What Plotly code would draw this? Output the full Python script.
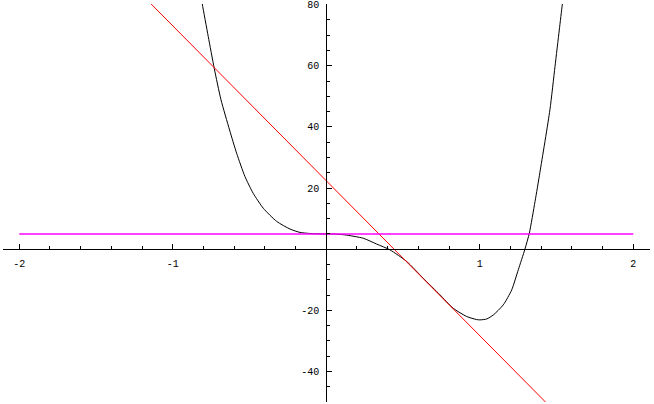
import plotly.graph_objects as go

# black curve
curve_x = [-0.822, -0.808, -0.769, -0.730, -0.686, -0.630, -0.584, -0.530, -0.476, -0.410,
           -0.323, -0.236, -0.171, -0.117, -0.06, 0.0, 0.06, 0.122, 0.241, 0.328,
           0.415, 0.524, 0.632, 0.741, 0.827, 0.915, 0.980, 1.001, 1.045, 1.088,
           1.153, 1.208, 1.251, 1.294, 1.323, 1.360, 1.392, 1.457, 1.490,
           1.518, 1.538, 1.552]
curve_y = [84.0, 80.2, 69.6, 59.2, 48.9, 39.0, 31.4, 23.8, 18.3, 13.4,
           9.1, 6.6, 5.5, 5.2, 5.05, 5.0, 4.95, 4.7, 3.6, 1.7,
           -0.2, -4.0, -9.5, -14.9, -19.3, -22.0, -23.0, -23.1, -22.8, -21.5,
           -18.2, -13.3, -6.7, 0.0, 5.3, 15.6, 25.2, 45.6, 59.7,
           71.7, 80.2, 86.0]

# red tangent line
tangent_x = [-1.2, 1.5]
tangent_y = [83.2, -53.6]

# magenta horizontal line
level_x = [-2, 2]
level_y = [5, 5]

x_tick_vals = [-2, -1, 1, 2]
x_tick_text = ["-2", "-1", "1", "2"]
y_tick_vals = [-40, -20, 20, 40, 60, 80]
y_tick_text = ["-40", "-20", "20", "40", "60", "80"]

x_range = [-2.106, 2.109]
y_range = [-49.95, 80.2]

fig = go.Figure()
fig.add_trace(go.Scatter(x=curve_x, y=curve_y, mode="lines",
                         line=dict(color="black", width=1, shape="spline", smoothing=0.6),
                         hoverinfo="skip"))
fig.add_trace(go.Scatter(x=tangent_x, y=tangent_y, mode="lines",
                         line=dict(color="#ff0000", width=1), hoverinfo="skip"))
fig.add_trace(go.Scatter(x=level_x, y=level_y, mode="lines",
                         line=dict(color="#ff00ff", width=1.6), hoverinfo="skip"))

xpos = (0 - y_range[0]) / (y_range[1] - y_range[0])
ypos = (0 - x_range[0]) / (x_range[1] - x_range[0])

tick_font = dict(family="Liberation Mono, Courier New, monospace", size=10, color="black")

fig.update_layout(
    width=654, height=404,
    margin=dict(l=3, r=4, t=4, b=2),
    paper_bgcolor="white", plot_bgcolor="white",
    showlegend=False,
    xaxis=dict(range=x_range, anchor="free", position=xpos, showgrid=False, zeroline=False,
               automargin=False,
               showline=True, linecolor="black", linewidth=1,
               tickmode="array", tickvals=x_tick_vals, ticktext=x_tick_text,
               ticks="inside", ticklen=5, tickwidth=1, tickcolor="black",
               tickfont=tick_font, ticklabelstandoff=5,
               minor=dict(tickmode="linear", tick0=0, dtick=0.2, ticks="inside",
                          ticklen=3, tickwidth=1, tickcolor="black", showgrid=False)),
    yaxis=dict(range=y_range, anchor="free", position=ypos, showgrid=False, zeroline=False,
               automargin=False,
               showline=True, linecolor="black", linewidth=1,
               tickmode="array", tickvals=y_tick_vals, ticktext=y_tick_text,
               ticks="inside", ticklen=5, tickwidth=1, tickcolor="black",
               tickfont=tick_font, ticklabelstandoff=5,
               minor=dict(tickmode="linear", tick0=0, dtick=5, ticks="inside",
                          ticklen=3, tickwidth=1, tickcolor="black", showgrid=False)),
)

fig.write_html("out.html",
               config={"displayModeBar": False, "staticPlot": True},
               post_script="document.body.style.margin='0';document.body.style.overflow='hidden';")
